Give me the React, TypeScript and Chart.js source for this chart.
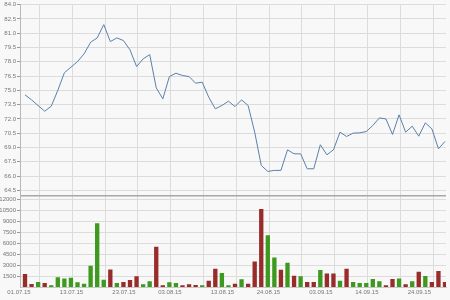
import React, { useEffect, useRef } from 'react';
import { Chart, registerables } from 'chart.js';

Chart.register(...registerables);

const dates = [
  '01.07.15', '02.07.15', '03.07.15', '06.07.15', '07.07.15', '08.07.15', '09.07.15', '10.07.15',
  '13.07.15', '14.07.15', '15.07.15', '16.07.15', '17.07.15', '20.07.15', '21.07.15', '22.07.15',
  '23.07.15', '24.07.15', '27.07.15', '28.07.15', '29.07.15', '30.07.15', '31.07.15',
  '03.08.15', '04.08.15', '05.08.15', '06.08.15', '07.08.15', '10.08.15', '11.08.15', '12.08.15',
  '13.08.15', '14.08.15', '17.08.15', '18.08.15', '19.08.15', '20.08.15', '21.08.15', '24.08.15',
  '25.08.15', '26.08.15', '27.08.15', '28.08.15', '31.08.15',
  '01.09.15', '02.09.15', '03.09.15', '04.09.15', '07.09.15', '08.09.15', '09.09.15', '10.09.15',
  '11.09.15', '14.09.15', '15.09.15', '16.09.15', '17.09.15', '18.09.15', '21.09.15', '22.09.15',
  '23.09.15', '24.09.15', '25.09.15', '28.09.15', '29.09.15',
];

const prices = [
  74.53, 74.0, 73.4, 72.81, 73.34, 75.0, 76.85, 77.43, 78.02, 78.83,
  80.05, 80.5, 81.9, 80.12, 80.5, 80.23, 79.25, 77.5, 78.3, 78.75,
  75.26, 74.11, 76.45, 76.8, 76.56, 76.45, 75.75, 75.86, 74.28, 73.06,
  73.41, 73.86, 73.3, 74.0, 73.41, 70.61, 67.12, 66.49, 66.6, 66.6,
  68.76, 68.34, 68.34, 66.77, 66.77, 69.29, 68.24, 68.76, 70.61, 70.16,
  70.51, 70.54, 70.68, 71.31, 72.11, 72.0, 70.37, 72.43, 70.61, 71.24,
  70.19, 71.59, 70.96, 68.87, 69.64,
];

const volumes = [
  1770, 410, 680, 545, 230, 1320, 1180, 1270, 636, 455,
  2910, 8730, 1000, 2410, 545, 680, 955, 1455, 364, 777,
  5500, 230, 636, 545, 230, 364, 273, 230, 864, 2500,
  1910, 230, 455, 1045, 455, 3500, 10680, 7090, 4045, 2360,
  3320, 1545, 1480, 680, 680, 2320, 1864, 1864, 864, 2500,
  680, 545, 545, 1090, 777, 230, 1090, 1180, 364, 777,
  2090, 1500, 680, 2180, 680,
];

// 1 = up (green), 0 = down (red)
const volumeUp = [
  0, 0, 1, 0, 1, 1, 1, 1, 1, 1,
  1, 1, 1, 0, 1, 0, 0, 0, 1, 1,
  0, 0, 1, 1, 0, 0, 0, 1, 0, 0,
  1, 1, 0, 1, 0, 0, 0, 1, 1, 0,
  1, 0, 1, 0, 0, 1, 0, 0, 1, 0,
  1, 1, 1, 1, 1, 0, 0, 1, 0, 1,
  0, 1, 0, 0, 0,
];

const labeledDates = ['01.07.15', '13.07.15', '23.07.15', '03.08.15', '13.08.15', '24.08.15', '03.09.15', '14.09.15', '24.09.15'];
const priceTicks = [64.5, 66.0, 67.5, 69.0, 70.5, 72.0, 73.5, 75.0, 76.5, 78.0, 79.5, 81.0, 82.5, 84.0];
const volumeTicks = [1500, 3000, 4500, 6000, 7500, 9000, 10500, 12000];
const gridPositions = [2.2, 7.2, 12.2, 17.2, 22.2, 27.2, 32.2, 37.2, 42.2, 47.2, 52.2, 57.2, 62.2];

export default function App() {
  const ref = useRef<HTMLCanvasElement>(null);

  useEffect(() => {
    const xMin = -0.762;
    const xMax = 64.152;
    const volMax = 12545;
    const priceMin = 63.98;
    const priceMax = 84.0;
    const font = { family: "'Liberation Sans', Arial, sans-serif", size: 6 };
    const gridColor = '#dcdcdc';
    const labelColor = '#777';

    const bg = {
      id: 'bg',
      beforeDraw(c: any) {
        const ctx = c.ctx;
        ctx.save();
        ctx.fillStyle = '#f8f8f8';
        ctx.fillRect(0, 0, c.width, c.height);
        ctx.restore();
      },
    };

    const chart = new Chart(ref.current as HTMLCanvasElement, {
      data: {
        datasets: [
          {
            type: 'line',
            data: prices.map((p, i) => ({ x: i, y: p })),
            xAxisID: 'x',
            yAxisID: 'yPrice',
            borderColor: '#5b80aa',
            borderWidth: 1,
            pointRadius: 0,
            tension: 0,
          } as any,
          {
            type: 'bar',
            data: volumes.map((v, i) => ({ x: i, y: v })),
            xAxisID: 'x',
            yAxisID: 'yVol',
            backgroundColor: volumeUp.map((u) => (u ? '#3d9a1e' : '#992b2b')),
            barPercentage: 0.66,
            categoryPercentage: 1,
          } as any,
        ],
      },
      options: {
        animation: false,
        responsive: false,
        layout: { padding: { top: 3.5, right: 4, bottom: 1.8, left: 0 } },
        plugins: { legend: { display: false }, tooltip: { enabled: false } },
        scales: {
          x: {
            type: 'linear',
            axis: 'x',
            position: 'bottom',
            offset: false,
            min: xMin,
            max: xMax,
            grid: { display: false, drawTicks: false, offset: false },
            border: { display: true, color: '#c8c8c8' },
            afterBuildTicks: (s: any) => {
              s.ticks = labeledDates.map((d) => ({ value: dates.indexOf(d) }));
            },
            ticks: {
              font,
              color: labelColor,
              padding: 2,
              labelOffset: -6,
              maxRotation: 0,
              autoSkip: false,
              callback: (v: any) => dates[v],
            },
          },
          xg: {
            type: 'linear',
            axis: 'x',
            position: 'top',
            offset: false,
            min: xMin,
            max: xMax,
            grid: { color: gridColor, drawTicks: false, offset: false },
            border: { display: false },
            ticks: { display: false },
            afterBuildTicks: (s: any) => {
              s.ticks = gridPositions.map((v) => ({ value: v }));
            },
          },
          yVol: {
            type: 'linear',
            axis: 'y',
            position: 'left',
            stack: 'v',
            stackWeight: 92,
            min: 0,
            max: volMax,
            afterBuildTicks: (s: any) => {
              s.ticks = [...volumeTicks, volMax].map((v) => ({ value: v }));
            },
            afterFit: (s: any) => {
              s.width = 20;
            },
            grid: {
              color: (c: any) => (c.tick && c.tick.value === volMax ? '#a8a8a8' : gridColor),
              lineWidth: (c: any) => (c.tick && c.tick.value === volMax ? 1.5 : 1),
              tickColor: (c: any) => (c.tick && c.tick.value === volMax ? 'rgba(0,0,0,0)' : '#999'),
              tickLength: 3,
            },
            border: { display: true, color: '#b8b8b8' },
            ticks: {
              font,
              color: labelColor,
              padding: 1,
              autoSkip: false,
              callback: (v: any) => (v === volMax ? '' : String(v)),
            },
          },
          yPrice: {
            type: 'linear',
            axis: 'y',
            position: 'left',
            stack: 'v',
            stackWeight: 191.5,
            min: priceMin,
            max: priceMax,
            afterBuildTicks: (s: any) => {
              s.ticks = priceTicks.map((v) => ({ value: v }));
            },
            afterFit: (s: any) => {
              s.width = 20;
            },
            grid: { color: gridColor, tickColor: '#999', tickLength: 3 },
            border: { display: true, color: '#b8b8b8' },
            ticks: {
              font,
              color: labelColor,
              padding: 1,
              autoSkip: false,
              callback: (v: any) => Number(v).toFixed(1),
            },
          },
        } as any,
      },
      plugins: [bg],
    });

    return () => chart.destroy();
  }, []);

  return (
    <div style={{ position: 'fixed', left: 0, top: 0, width: 450, height: 300 }}>
      <canvas ref={ref} width={450} height={300} style={{ display: 'block' }} />
    </div>
  );
}
